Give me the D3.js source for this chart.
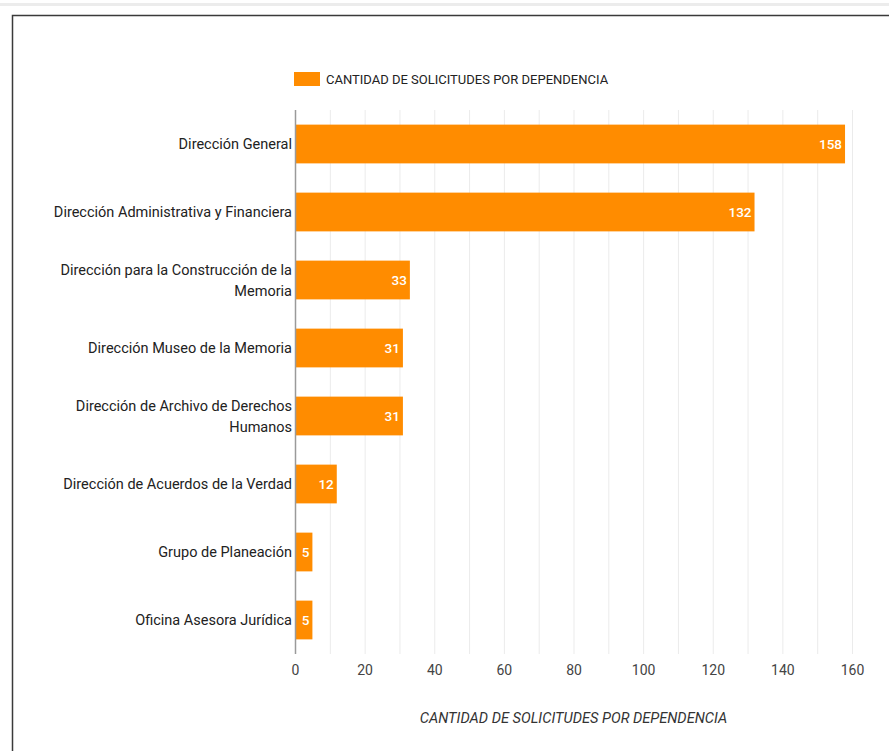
<!DOCTYPE html>
<html>
<head>
<meta charset="utf-8">
<script src="https://cdn.jsdelivr.net/npm/d3@7"></script>
<style>
  html, body { margin: 0; padding: 0; background: #fff; }
  svg { display: block; font-family: Roboto, "Noto Sans", sans-serif; }
</style>
</head>
<body>
<svg id="chart" width="889" height="751"></svg>
<script>
// Requests per office
const categories = [
  ["Dirección General"],
  ["Dirección Administrativa y Financiera"],
  ["Dirección para la Construcción de la", "Memoria"],
  ["Dirección Museo de la Memoria"],
  ["Dirección de Archivo de Derechos", "Humanos"],
  ["Dirección de Acuerdos de la Verdad"],
  ["Grupo de Planeación"],
  ["Oficina Asesora Jurídica"]
];
const values = [158, 132, 33, 31, 31, 12, 5, 5];
const xTicks = [0, 20, 40, 60, 80, 100, 120, 140, 160];
const seriesName = "CANTIDAD DE SOLICITUDES POR DEPENDENCIA";
const axisTitle = "CANTIDAD DE SOLICITUDES POR DEPENDENCIA";

const svg = d3.select("#chart");
const barColor = "#ff8c00";

// page chrome: thin band at top and the container frame
svg.append("rect").attr("x", 0).attr("y", 3).attr("width", 889).attr("height", 3).attr("fill", "#ececec");
svg.append("path").attr("d", "M12.5,751 V15.5 H889")
  .attr("fill", "none").attr("stroke", "#3a3a3a").attr("stroke-width", 1.5);

const plot = { left: 295, right: 852, top: 110, bottom: 654 };
const keys = categories.map((c, i) => i);

const x = d3.scaleLinear().domain([0, 160]).range([plot.left, plot.right]);
const y = d3.scaleBand().domain(keys).range([plot.top, plot.bottom]).paddingInner(0.43).paddingOuter(0.215);

// vertical gridlines every 10 units
const grid = d3.range(10, 161, 10);
svg.append("g").selectAll("line").data(grid).join("line")
  .attr("x1", d => x(d) + 0.5).attr("x2", d => x(d) + 0.5)
  .attr("y1", plot.top).attr("y2", plot.bottom)
  .attr("stroke", "#ebebeb").attr("stroke-width", 1);

// bars
svg.append("g").selectAll("rect").data(values).join("rect")
  .attr("x", x(0))
  .attr("y", (d, i) => y(i))
  .attr("width", d => x(d) - x(0))
  .attr("height", y.bandwidth())
  .attr("fill", barColor);

// baseline
svg.append("line").attr("x1", x(0) + 0.5).attr("x2", x(0) + 0.5)
  .attr("y1", plot.top).attr("y2", plot.bottom)
  .attr("stroke", "#9a9a9a").attr("stroke-width", 1.5);

// value labels inside the bar ends
svg.append("g").selectAll("text").data(values).join("text")
  .attr("x", d => x(d) - 3)
  .attr("y", (d, i) => y(i) + y.bandwidth() / 2)
  .attr("dy", "0.35em")
  .attr("text-anchor", "end")
  .attr("font-size", 13.5)
  .attr("font-weight", 500)
  .attr("fill", "#fff")
  .text(d => d);

// category labels
const catG = svg.append("g");
categories.forEach((lines, i) => {
  const cy = y(i) + y.bandwidth() / 2;
  const t = catG.append("text")
    .attr("text-anchor", "end")
    .attr("font-size", 14.5)
    .attr("fill", "#222");
  lines.forEach((ln, j) => {
    t.append("tspan")
      .attr("x", plot.left - 3)
      .attr("y", cy + (j - (lines.length - 1) / 2) * 21)
      .attr("dy", "0.35em")
      .text(ln);
  });
});

// x axis tick labels
const xAxis = d3.axisBottom(x).tickValues(xTicks).tickSize(0).tickPadding(0);
const ax = svg.append("g").attr("transform", `translate(0,${plot.bottom + 11})`).call(xAxis);
ax.select(".domain").remove();
ax.selectAll("text").attr("font-size", 14).attr("fill", "#444")
  .attr("font-family", "Roboto, sans-serif").attr("dy", "0.71em");

// axis title
svg.append("text")
  .attr("x", (plot.left + plot.right) / 2)
  .attr("y", 723)
  .attr("text-anchor", "middle")
  .attr("font-size", 14.6)
  .attr("font-style", "italic")
  .attr("fill", "#333")
  .text(axisTitle);

// legend
const leg = svg.append("g").attr("transform", "translate(294,72)");
leg.append("rect").attr("width", 26).attr("height", 14).attr("fill", barColor);
leg.append("text").attr("x", 32).attr("y", 7).attr("dy", "0.35em")
  .attr("font-size", 13).attr("fill", "#222").text(seriesName);
</script>
</body>
</html>
